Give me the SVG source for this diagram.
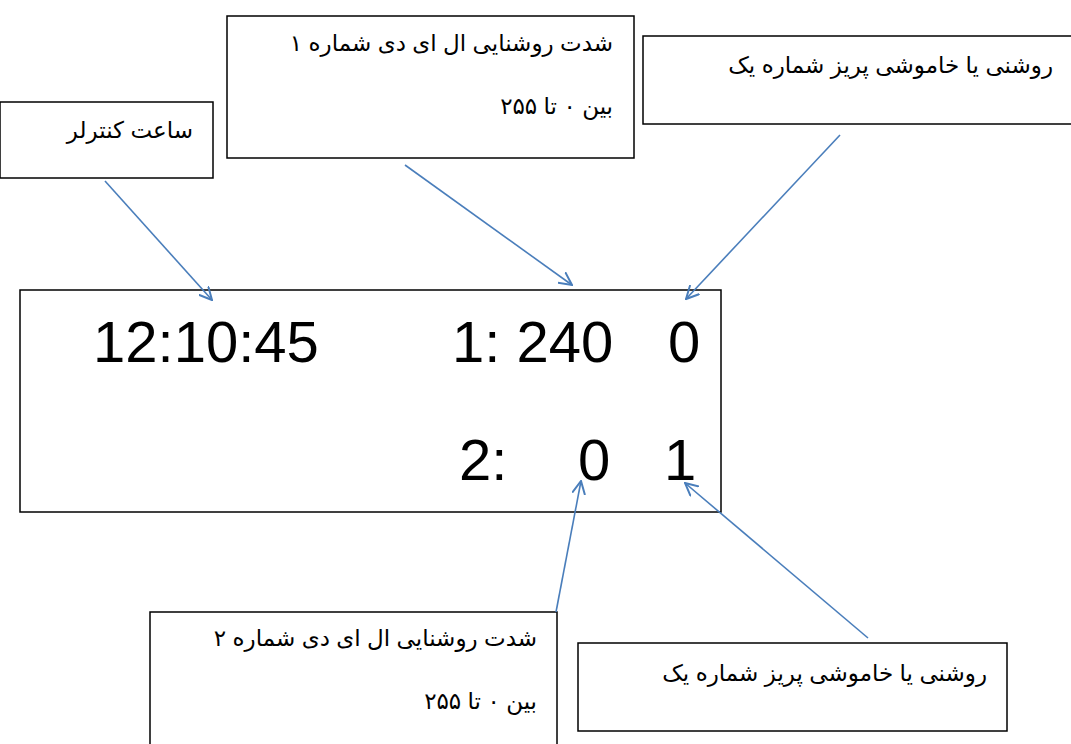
<svg xmlns="http://www.w3.org/2000/svg" width="1071" height="744" viewBox="0 0 1071 744">
<style>
.box{fill:#fff;stroke:#000;stroke-width:1.5}
.fa{font-family:"Liberation Sans","DejaVu Sans",sans-serif;font-size:23px;fill:#000}
.big{font-family:"Liberation Sans",Arial,sans-serif;font-size:58px;fill:#000}
.conn line{stroke:#4a7ebb;stroke-width:1.6;fill:none}
</style>
<defs>
<marker id="ah" viewBox="0 0 14 14" refX="13" refY="7" markerWidth="14" markerHeight="14" markerUnits="userSpaceOnUse" orient="auto">
<path d="M0,0.5 L13,7 L0,13.5" fill="none" stroke="#4a7ebb" stroke-width="2"/>
</marker>
</defs>
<rect width="1071" height="744" fill="#fff"/>
<g id="main">
<rect class="box" x="20" y="290" width="701" height="222"/>
<text class="big" x="93" y="362">12:10:45</text>
<text class="big" x="452" y="362">1: 240</text>
<text class="big" x="668" y="362">0</text>
<text class="big" x="459" y="480">2:</text>
<text class="big" x="578" y="480">0</text>
<text class="big" x="664" y="480">1</text>
</g>
<g id="clock">
<rect class="box" x="0" y="102" width="213" height="76"/>
<text class="fa" x="193" y="138" direction="rtl" text-anchor="start">ساعت کنترلر</text>
</g>
<g id="led1">
<rect class="box" x="227" y="16" width="407" height="142"/>
<text class="fa" x="613" y="51" direction="rtl" text-anchor="start">شدت روشنایی ال ای دی شماره ۱</text>
<text class="fa" x="613" y="114" direction="rtl" text-anchor="start">بین ۰ تا ۲۵۵</text>
</g>
<g id="switch1">
<rect class="box" x="643" y="36" width="430" height="88"/>
<text class="fa" x="1053" y="73" direction="rtl" text-anchor="start">روشنی یا خاموشی پریز شماره یک</text>
</g>
<g id="led2">
<rect class="box" x="150" y="612" width="407" height="140"/>
<text class="fa" x="537" y="646" direction="rtl" text-anchor="start">شدت روشنایی ال ای دی شماره ۲</text>
<text class="fa" x="537" y="709" direction="rtl" text-anchor="start">بین ۰ تا ۲۵۵</text>
</g>
<g id="switch2">
<rect class="box" x="578" y="643" width="429" height="88"/>
<text class="fa" x="987" y="681" direction="rtl" text-anchor="start">روشنی یا خاموشی پریز شماره یک</text>
</g>
<g class="conn" id="connectors">
<line x1="105" y1="181" x2="212" y2="300" marker-end="url(#ah)"/>
<line x1="405" y1="165" x2="572" y2="285" marker-end="url(#ah)"/>
<line x1="840" y1="135" x2="686" y2="299" marker-end="url(#ah)"/>
<line x1="556" y1="612" x2="581" y2="481" marker-end="url(#ah)"/>
<line x1="868" y1="638" x2="685" y2="483" marker-end="url(#ah)"/>
</g>
</svg>
